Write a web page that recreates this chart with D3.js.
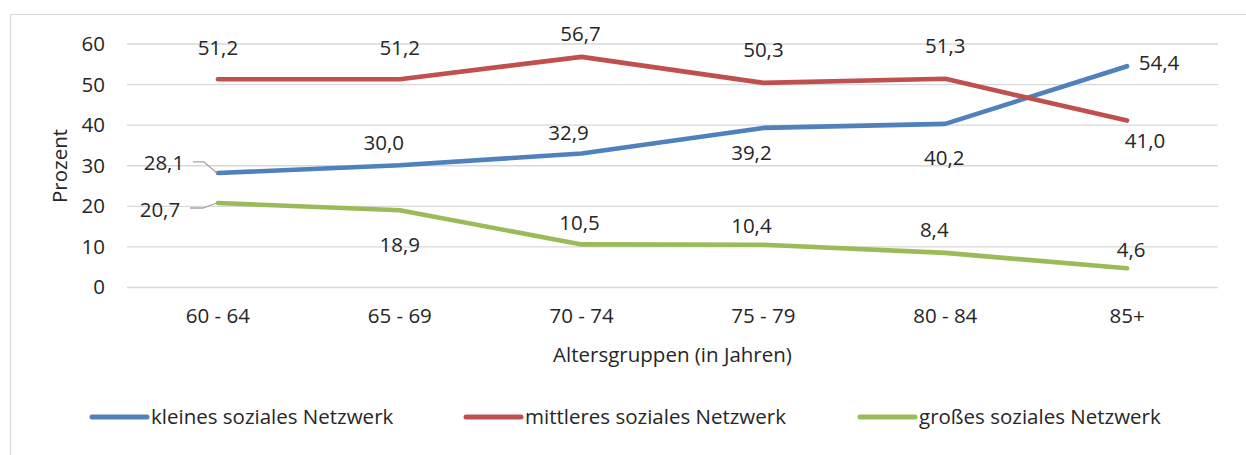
<!DOCTYPE html>
<html><head><meta charset="utf-8">
<script src="https://cdn.jsdelivr.net/npm/d3@7/dist/d3.min.js"></script>
<style>
html,body{margin:0;padding:0;background:#fff;}
svg{display:block;}
text{font-family:"Open Sans",Lato,sans-serif;fill:#262626;}
</style></head>
<body>
<svg id="chart" width="1246" height="455"></svg>
<script>
const categories = ["60 - 64","65 - 69","70 - 74","75 - 79","80 - 84","85+"];
const seriesNames = ["kleines soziales Netzwerk","mittleres soziales Netzwerk","großes soziales Netzwerk"];
const kleines = [28.1,30.0,32.9,39.2,40.2,54.4];
const mittleres = [51.2,51.2,56.7,50.3,51.3,41.0];
const grosses = [20.7,18.9,10.5,10.4,8.4,4.6];
const yTicks = [0,10,20,30,40,50,60];
const yTitle = "Prozent";
const xTitle = "Altersgruppen (in Jahren)";

const colors = ["#4F81BD","#C0504D","#9BBB59"];
const seriesValues = [kleines, mittleres, grosses];
const FS = 20.5;
const FF = "'Open Sans',Lato,sans-serif";

// label offsets (style) relative to each point
const labelOffsets = [
  [[-54,-3],[-16,-15],[-13,-13.5],[-12,32],[-1,41],[32,4]],
  [[0,-24],[0,-24],[-1,-16],[0,-26],[0,-26],[18,27]],
  [[-58,14],[0,42],[-2,-14],[-12,-12],[-11,-16],[4,-11]]
];
const leaders = {"0-0":[[-25,-11],[-14,-11],[-1,0]], "2-0":[[-28,5],[-15,5],[-1,0]]};

const svg = d3.select("#chart");
const x = d3.scaleBand().domain(categories).range([127,1218]).padding(0);
const y = d3.scaleLinear().domain([0,60]).range([287,43.5]);
const cx = c => x(c) + x.bandwidth()/2;

// outer border
svg.append("rect").attr("x",10.5).attr("y",14.5).attr("width",1250).attr("height",460)
  .attr("fill","none").attr("stroke","#d9d9d9").attr("stroke-width",1.2);

// gridlines + y labels
const yAxis = d3.axisLeft(y).tickValues(yTicks).tickSize(-(1218-127)).tickFormat(d=>d).tickPadding(22);
const gy = svg.append("g").attr("transform","translate(127,0)").call(yAxis);
gy.select(".domain").remove();
gy.selectAll(".tick line").attr("stroke","#d9d9d9").attr("stroke-width",1.3);
gy.selectAll(".tick text").attr("font-size",FS).attr("dy","0.34em").attr("fill","#262626")
  .style("font-family",FF);

// x axis labels
const xAxis = d3.axisBottom(x).tickSize(0).tickPadding(0);
const gx = svg.append("g").attr("transform","translate(0,287)").call(xAxis);
gx.select(".domain").remove();
gx.selectAll(".tick text").attr("font-size",FS).attr("y",36).attr("dy",0).attr("fill","#262626")
  .style("font-family",FF);

// axis titles
svg.append("text").attr("transform","translate(67,166) rotate(-90)").attr("text-anchor","middle")
  .attr("font-size",FS).text(yTitle);
svg.append("text").attr("x",672.5).attr("y",362).attr("text-anchor","middle")
  .attr("font-size",FS).text(xTitle);

// lines
const line = d3.line().x((d,i)=>cx(categories[i])).y(d=>y(d));
seriesValues.forEach((vals,s)=>{
  svg.append("path").datum(vals).attr("d",line).attr("fill","none")
    .attr("stroke",colors[s]).attr("stroke-width",4.6)
    .attr("stroke-linecap","round").attr("stroke-linejoin","round");
});

// leader lines
Object.entries(leaders).forEach(([k,pts])=>{
  const [s,i] = k.split("-").map(Number);
  const px = cx(categories[i]), py = y(seriesValues[s][i]);
  svg.append("path").attr("d", d3.line()(pts.map(p=>[px+p[0],py+p[1]])))
    .attr("fill","none").attr("stroke","#a6a6a6").attr("stroke-width",1.3);
});

// data labels
const fmt = v => v.toFixed(1).replace(".",",");
seriesValues.forEach((vals,s)=>{
  vals.forEach((v,i)=>{
    const o = labelOffsets[s][i];
    svg.append("text").attr("x",cx(categories[i])+o[0]).attr("y",y(v)+o[1])
      .attr("text-anchor","middle").attr("font-size",FS).text(fmt(v));
  });
});

// legend
const legendX = [92,466,860];
seriesNames.forEach((n,s)=>{
  const g = svg.append("g");
  g.append("line").attr("x1",legendX[s]).attr("x2",legendX[s]+55).attr("y1",417).attr("y2",417)
    .attr("stroke",colors[s]).attr("stroke-width",5).attr("stroke-linecap","round");
  g.append("text").attr("x",legendX[s]+59).attr("y",424).attr("font-size",FS).text(n);
});
</script>
</body></html>
